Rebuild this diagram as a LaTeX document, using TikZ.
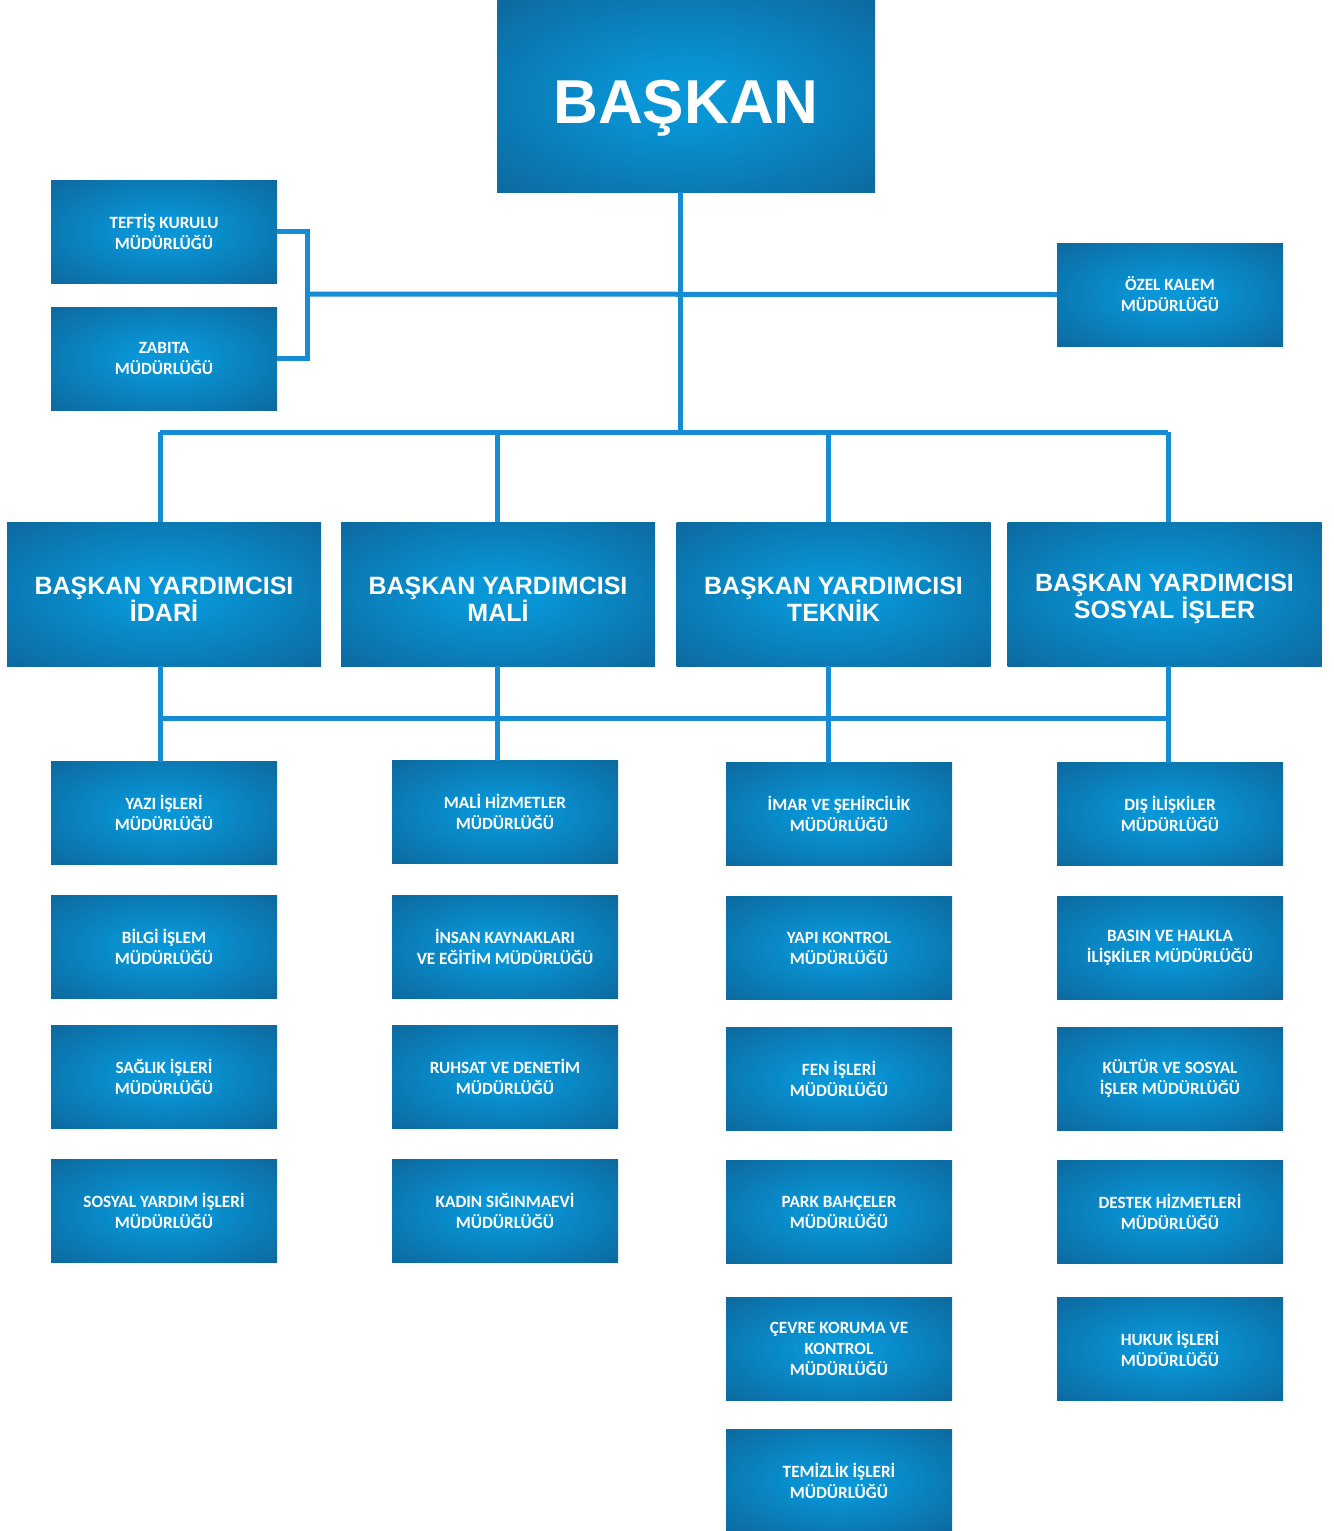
\documentclass[tikz,border=0pt]{standalone}
\usepackage{fontspec}
\setmainfont{Carlito}
\newfontfamily\arialf{Liberation Sans}
\definecolor{bxin}{RGB}{8,150,215}
\definecolor{bxmid}{RGB}{14,92,142}
\definecolor{bxout}{RGB}{12,76,120}
\definecolor{lnc}{RGB}{22,140,212}
\pgfdeclareradialshading{boxshade}{\pgfpoint{0bp}{0bp}}{color(0bp)=(bxin); color(6bp)=(bxin); color(44bp)=(bxmid); color(50bp)=(bxout)}
\newcommand{\vpstrut}{\rule{0pt}{14pt}}
\tikzset{
  box/.style={shading=boxshade, inner sep=0pt, outer sep=0pt, align=center, text=white},
  small/.style={box, minimum width=113pt, minimum height=51.5pt, font=\bfseries\fontsize{8.6}{10.5}\selectfont},
  vp/.style={box, minimum width=157pt, minimum height=72pt, font=\arialf\bfseries\fontsize{12.5}{13.5}\selectfont},
  chief/.style={box, minimum width=189pt, minimum height=96pt, text height=27pt, text depth=0pt, font=\arialf\bfseries\fontsize{31}{33}\selectfont},
  conn/.style={draw=lnc, line width=2.5pt}
}
\begin{document}
\begin{tikzpicture}[x=0.5pt,y=-0.5pt]
\useasboundingbox[fill=white] (0,0) rectangle (1333,1531);
% top
\node[chief] (baskan) at (686,96) {BAŞKAN};
\node[small] (teftis) at (164,231.5) {TEFTİŞ KURULU\\MÜDÜRLÜĞÜ};
\node[small] (zabita) at (164,358.5) {ZABITA\\MÜDÜRLÜĞÜ};
\node[small] (ozel) at (1170,294.5) {ÖZEL KALEM\\MÜDÜRLÜĞÜ};
% vice presidents
\node[vp] (vp1) at (164,594) {\vpstrut BAŞKAN YARDIMCISI\\İDARİ};
\node[vp] (vp2) at (498,594) {\vpstrut BAŞKAN YARDIMCISI\\MALİ};
\node[vp] (vp3) at (833.5,594) {\vpstrut BAŞKAN YARDIMCISI\\TEKNİK};
\node[vp] (vp4) at (1164.5,594) {\vpstrut BAŞKAN YARDIMCISI\\SOSYAL İŞLER};
% column 1
\node[small] (a1) at (164,813) {YAZI İŞLERİ\\MÜDÜRLÜĞÜ};
\node[small] (a2) at (164,947) {BİLGİ İŞLEM\\MÜDÜRLÜĞÜ};
\node[small] (a3) at (164,1077) {SAĞLIK İŞLERİ\\MÜDÜRLÜĞÜ};
\node[small] (a4) at (164,1211) {SOSYAL YARDIM İŞLERİ\\MÜDÜRLÜĞÜ};
% column 2
\node[small] (b1) at (505,812) {MALİ HİZMETLER\\MÜDÜRLÜĞÜ};
\node[small] (b2) at (505,947) {İNSAN KAYNAKLARI\\VE EĞİTİM MÜDÜRLÜĞÜ};
\node[small] (b3) at (505,1076.5) {RUHSAT VE DENETİM\\MÜDÜRLÜĞÜ};
\node[small] (b4) at (505,1211) {KADIN SIĞINMAEVİ\\MÜDÜRLÜĞÜ};
% column 3
\node[small] (c1) at (839,814) {İMAR VE ŞEHİRCİLİK\\MÜDÜRLÜĞÜ};
\node[small] (c2) at (839,948) {YAPI KONTROL\\MÜDÜRLÜĞÜ};
\node[small] (c3) at (839,1078.5) {FEN İŞLERİ\\MÜDÜRLÜĞÜ};
\node[small] (c4) at (839,1212) {PARK BAHÇELER\\MÜDÜRLÜĞÜ};
\node[small] (c5) at (839,1349) {ÇEVRE KORUMA VE\\KONTROL\\MÜDÜRLÜĞÜ};
\node[small] (c6) at (839,1480.5) {TEMİZLİK İŞLERİ\\MÜDÜRLÜĞÜ};
% column 4
\node[small] (d1) at (1170,814) {DIŞ İLİŞKİLER\\MÜDÜRLÜĞÜ};
\node[small] (d2) at (1170,948) {BASIN VE HALKLA\\İLİŞKİLER MÜDÜRLÜĞÜ};
\node[small] (d3) at (1170,1078.5) {KÜLTÜR VE SOSYAL\\İŞLER MÜDÜRLÜĞÜ};
\node[small] (d4) at (1170,1212) {DESTEK HİZMETLERİ\\MÜDÜRLÜĞÜ};
\node[small] (d5) at (1170,1349) {HUKUK İŞLERİ\\MÜDÜRLÜĞÜ};
% junction coordinates
\coordinate (br) at (307,294);
\coordinate (hub) at (680,294);
\coordinate (t1) at (160,432);
\coordinate (t2) at (497,432);
\coordinate (t3) at (828,432);
\coordinate (t4) at (1168,432);
\coordinate (u1) at (160,718);
\coordinate (u2) at (497,718);
\coordinate (u3) at (828,718);
\coordinate (u4) at (1168,718);
% connectors
\draw[conn] (baskan.south -| hub) -- (hub |- t1);
\draw[conn] (teftis.east) -| (br) |- (zabita.east);
\draw[conn] (br) -- (ozel.west);
\draw[conn] (t1) -- (t4);
\draw[conn] (t1) -- (t1 |- vp1.north);
\draw[conn] (t2) -- (t2 |- vp2.north);
\draw[conn] (t3) -- (t3 |- vp3.north);
\draw[conn] (t4) -- (t4 |- vp4.north);
\draw[conn] (u1) -- (u4);
\draw[conn] (u1 |- vp1.south) -- (u1 |- a1.north);
\draw[conn] (u2 |- vp2.south) -- (u2 |- b1.north);
\draw[conn] (u3 |- vp3.south) -- (u3 |- c1.north);
\draw[conn] (u4 |- vp4.south) -- (u4 |- d1.north);
\end{tikzpicture}
\end{document}
